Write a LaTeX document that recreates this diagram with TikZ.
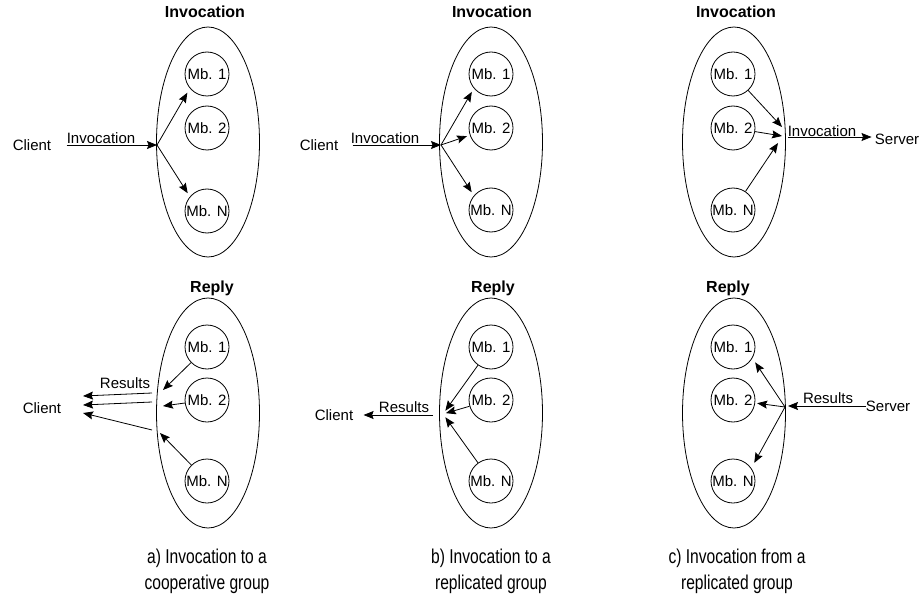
\documentclass[tikz,border=0pt]{standalone}
\usepackage{fontspec}
\setmainfont{Liberation Sans}
\newfontfamily\capfont[FakeStretch=0.78]{Liberation Sans}
\usetikzlibrary{arrows.meta,shapes.geometric}

\tikzset{
  grp/.style={draw,ellipse,minimum width=103pt,minimum height=230pt,inner sep=0pt},
  mbr/.style={draw,circle,minimum size=44pt,inner sep=0pt,font=\fontsize{15}{18}\selectfont},
  lbl/.style={inner sep=0pt,font=\fontsize{15}{18}\selectfont},
  ttl/.style={inner sep=0pt,font=\fontsize{16}{19}\selectfont\bfseries},
  capt/.style={align=center,inner sep=0pt,font=\capfont\fontsize{20}{26}\selectfont},
  arr/.style={-{Stealth[length=10pt,width=8pt,inset=1.5pt]}},
}

\begin{document}
\begin{tikzpicture}[x=1pt,y=-1pt,line width=0.8pt]
   \useasboundingbox (0,0) rectangle (920,596);
   % a) invocation to a cooperative group
   \node[grp] (igA) at (208,142) {};
   \node[ttl] (itA) at (205,12) {Invocation};
   \node[mbr] (ia1) at (207, 74) {Mb. 1};
   \node[mbr] (ia2) at (207,128) {Mb. 2};
   \node[mbr] (iaN) at (207,211) {Mb. N};
   \node[lbl] (cliA) at ( 32,145) {Client};
   \node[lbl] (ilA) at (101,138) {Invocation};
   \coordinate (brA) at (157,145);
   \draw[arr,shorten <=15pt] (cliA.east) -- (brA);
   \draw[arr,shorten >=5pt] (brA) -- (ia1.220);
   \draw[arr,shorten >=4pt] (brA) -- (iaN.140);
   % a) reply
   \node[grp] (rgA) at (208,413) {};
   \node[ttl] (rtA) at (212,288) {Reply};
   \node[mbr] (ra1) at (207,347) {Mb. 1};
   \node[mbr] (ra2) at (207,400) {Mb. 2};
   \node[mbr] (raN) at (207,481) {Mb. N};
   \node[lbl] (cliB) at ( 42,408) {Client};
   \node[lbl] (rlA) at (125,383) {Results};
   \coordinate (ea1) at (163,390);
   \coordinate (ea2) at (163,406);
   \coordinate (eaN) at (160,433);
   \draw[arr] (ra1) -- (ea1);
   \draw[arr] (ra2) -- (ea2);
   \draw[arr] (raN) -- (eaN);
   \coordinate (oa1) at (152,393);
   \coordinate (oa2) at (152,402);
   \coordinate (oaN) at (152,430);
   \coordinate (ca1) at ( 83,396);
   \coordinate (ca2) at ( 83,405);
   \coordinate (caN) at ( 83,413);
   \draw[arr] (oa1) -- (ca1);
   \draw[arr] (oa2) -- (ca2);
   \draw[arr] (oaN) -- (caN);
   % b) invocation to a replicated group
   \node[grp] (igB) at (491,142) {};
   \node[ttl] (itB) at (492,12) {Invocation};
   \node[mbr] (ib1) at (491, 74) {Mb. 1};
   \node[mbr] (ib2) at (491,128) {Mb. 2};
   \node[mbr] (ibN) at (491,210) {Mb. N};
   \node[lbl] (cliC) at (319,145) {Client};
   \node[lbl] (ilB) at (385,138) {Invocation};
   \coordinate (brB) at (441,145);
   \draw[arr,shorten <=14pt] (cliC.east) -- (brB);
   \draw[arr,shorten >=4pt] (brB) -- (ib1.220);
   \draw[arr,shorten >=3pt] (brB) -- (ib2);
   \draw[arr,shorten >=4pt] (brB) -- (ibN.140);
   % b) reply
   \node[grp] (rgB) at (491,413) {};
   \node[ttl] (rtB) at (493,288) {Reply};
   \node[mbr] (rb1) at (491,347) {Mb. 1};
   \node[mbr] (rb2) at (491,400) {Mb. 2};
   \node[mbr] (rbN) at (491,481) {Mb. N};
   \node[lbl] (cliD) at (334,415) {Client};
   \node[lbl] (rlB) at (404,407) {Results};
   \coordinate (mB) at (443,414);
   \draw[arr,shorten >=4pt] (rb1) -- (mB);
   \draw[arr,shorten >=3pt] (rb2) -- (mB);
   \draw[arr,shorten >=4pt] (rbN) -- (mB);
   \coordinate (sB) at (433,415);
   \draw[arr,shorten >=10pt] (sB) -- (cliD.east);
   % c) invocation from a replicated group
   \node[grp] (igC) at (734,142) {};
   \node[ttl] (itC) at (736,12) {Invocation};
   \node[mbr] (ic1) at (733, 74) {Mb. 1};
   \node[mbr] (ic2) at (733,128) {Mb. 2};
   \node[mbr] (icN) at (733,210) {Mb. N};
   \node[lbl] (srvC) at (897,139) {Server};
   \node[lbl] (ilC) at (822,131) {Invocation};
   \coordinate (ec1) at (782,127);
   \coordinate (ec2) at (782,136);
   \coordinate (ecN) at (778,143);
   \draw[arr] (ic1) -- (ec1);
   \draw[arr] (ic2) -- (ec2);
   \draw[arr] (icN) -- (ecN);
   \coordinate (sC) at (788,137);
   \draw[arr,shorten >=3pt] (sC) -- (srvC.west |- sC);
   % c) reply
   \node[grp] (rgC) at (734,413) {};
   \node[ttl] (rtC) at (728,288) {Reply};
   \node[mbr] (rc1) at (733,347) {Mb. 1};
   \node[mbr] (rc2) at (733,400) {Mb. 2};
   \node[mbr] (rcN) at (733,481) {Mb. N};
   \node[lbl] (srvD) at (888,406) {Server};
   \node[lbl] (rlC) at (828,398) {Results};
   \coordinate (brD) at (785,407);
   \draw[arr,shorten >=5pt] (brD) -- (rc1.-30);
   \draw[arr,shorten >=2pt] (brD) -- (rc2);
   \draw[arr,shorten >=6pt] (brD) -- (rcN.35);
   \coordinate (eD) at (788,406);
   \draw[arr] (srvD.west) -- (eD);
   % captions
   \node[capt] (capA) at (207,571) {a) Invocation to a\\cooperative group};
   \node[capt] (capB) at (491,571) {b) Invocation to a\\replicated group};
   \node[capt] (capC) at (737,571) {c) Invocation from a\\replicated group};
\end{tikzpicture}
\end{document}
